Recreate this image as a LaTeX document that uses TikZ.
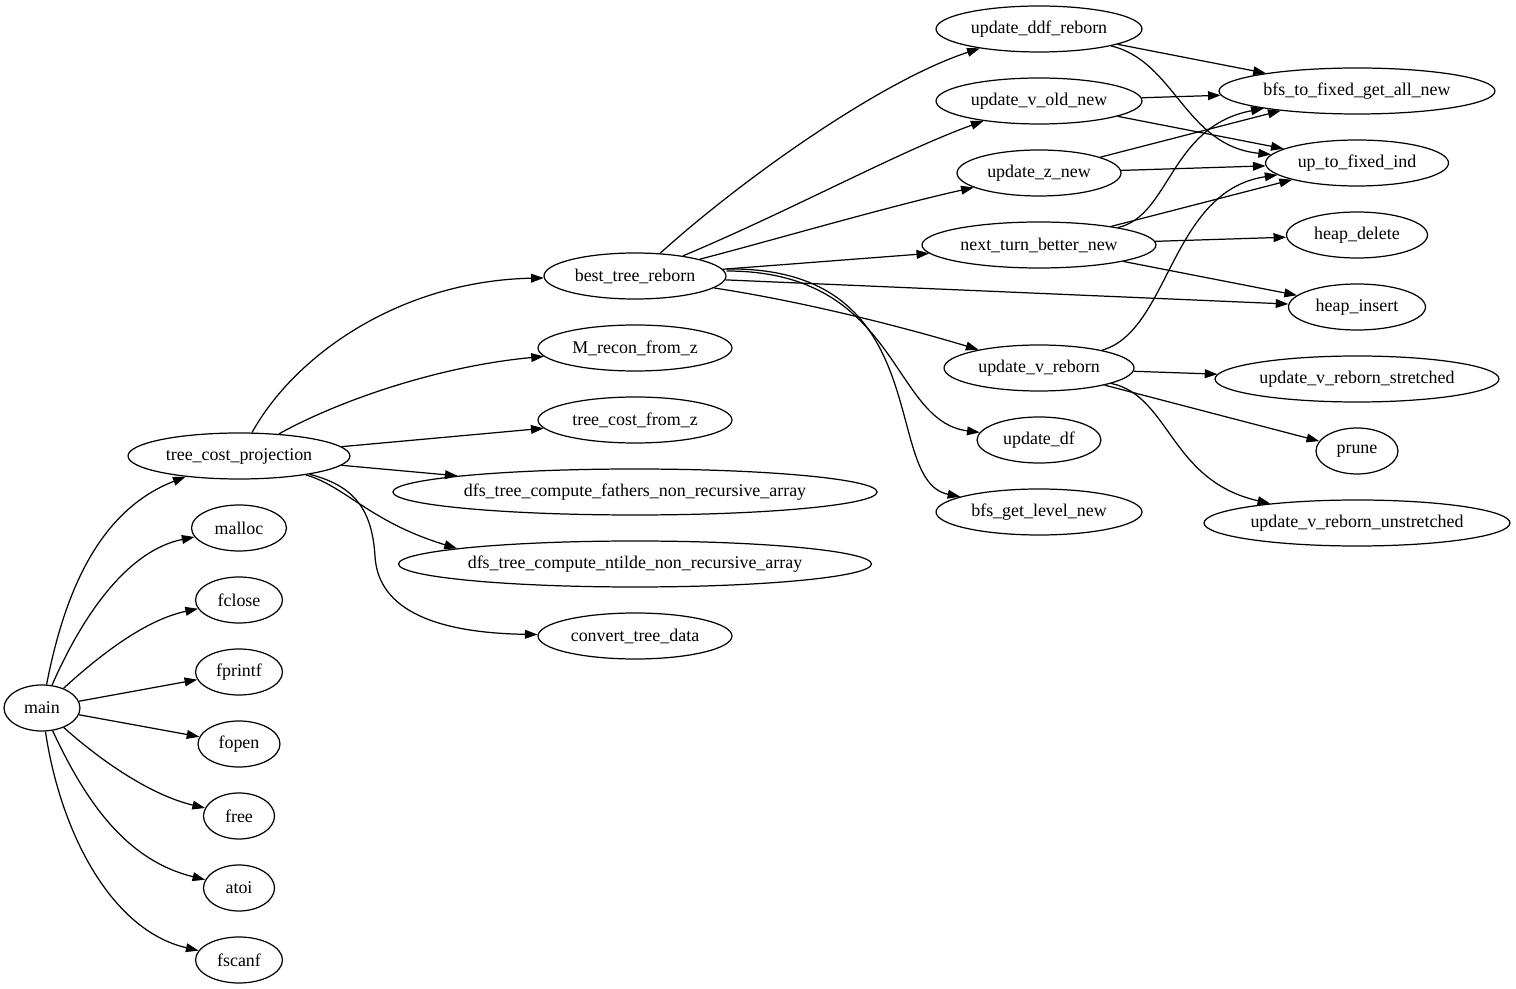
\documentclass[tikz,border=0pt]{standalone}
\usepackage{fontspec}
\setmainfont{Liberation Serif}
\usetikzlibrary{shapes.geometric,arrows.meta}
\tikzset{
  fn/.style={ellipse, draw, line width=0.7pt, inner sep=0pt, minimum height=0.92cm,
    font=\fontsize{10.2}{12}\selectfont},
  call/.style={line width=0.7pt, -{Triangle[length=7.2pt,width=5pt]}},
}
\begin{document}
\begin{tikzpicture}[x=0.02cm,y=-0.02cm]
\useasboundingbox (0,0) rectangle (1516,989);
% column 0
\node[fn, minimum width=1.52cm] (main) at (42,708) {main};
% column 1
\node[fn, minimum width=4.44cm] (tcp) at (239,456) {tree\_cost\_projection};
\node[fn, minimum width=1.9cm] (malloc) at (239,528) {malloc};
\node[fn, minimum width=1.74cm] (fclose) at (239,600) {fclose};
\node[fn, minimum width=1.74cm] (fprintf) at (239,672) {fprintf};
\node[fn, minimum width=1.64cm] (fopen) at (239,744) {fopen};
\node[fn, minimum width=1.42cm] (free) at (239,816) {free};
\node[fn, minimum width=1.42cm] (atoi) at (239,888) {atoi};
\node[fn, minimum width=1.74cm] (fscanf) at (239,960) {fscanf};
% column 2
\node[fn, minimum width=3.64cm] (btr) at (635,276) {best\_tree\_reborn};
\node[fn, minimum width=3.88cm] (mrec) at (635,348) {M\_recon\_from\_z};
\node[fn, minimum width=3.88cm] (tcfz) at (635,420) {tree\_cost\_from\_z};
\node[fn, minimum width=9.58cm] (dfsf) at (635,492) {dfs\_tree\_compute\_fathers\_non\_recursive\_array};
\node[fn, minimum width=9.32cm] (dfsn) at (635,564) {dfs\_tree\_compute\_ntilde\_non\_recursive\_array};
\node[fn, minimum width=3.88cm] (ctd) at (635,636) {convert\_tree\_data};
% column 3
\node[fn, minimum width=4.12cm] (uddf) at (1039,29) {update\_ddf\_reborn};
\node[fn, minimum width=4.12cm] (uvon) at (1039,101) {update\_v\_old\_new};
\node[fn, minimum width=3.28cm] (uzn) at (1039,173) {update\_z\_new};
\node[fn, minimum width=4.68cm] (ntbn) at (1039,245) {next\_turn\_better\_new};
\node[fn, minimum width=3.8cm] (uvr) at (1039,368) {update\_v\_reborn};
\node[fn, minimum width=2.48cm] (udf) at (1039,440) {update\_df};
\node[fn, minimum width=4.12cm] (bgl) at (1039,512) {bfs\_get\_level\_new};
% column 4
\node[fn, minimum width=5.52cm] (bfga) at (1357,91) {bfs\_to\_fixed\_get\_all\_new};
\node[fn, minimum width=3.66cm] (utfi) at (1357,163) {up\_to\_fixed\_ind};
\node[fn, minimum width=2.82cm] (hdel) at (1357,235) {heap\_delete};
\node[fn, minimum width=2.74cm] (hins) at (1357,307) {heap\_insert};
\node[fn, minimum width=5.68cm] (uvrs) at (1357,379) {update\_v\_reborn\_stretched};
\node[fn, minimum width=1.64cm] (prune) at (1357,451) {prune};
\node[fn, minimum width=6.12cm] (uvru) at (1357,523) {update\_v\_reborn\_unstretched};

% main edges
\draw[call] (main) .. controls (65,590) and (100,510) .. (tcp);
\draw[call] (main) .. controls (85,610) and (130,550) .. (malloc);
\draw[call] (main) .. controls (100,655) and (145,620) .. (fclose);
\draw[call] (main) -- (fprintf);
\draw[call] (main) -- (fopen);
\draw[call] (main) .. controls (100,760) and (150,795) .. (free);
\draw[call] (main) .. controls (85,800) and (125,860) .. (atoi);
\draw[call] (main) .. controls (60,830) and (110,930) .. (fscanf);

% tree_cost_projection edges
\draw[call] (tcp) .. controls (295,355) and (400,281) .. (btr);
\draw[call] (tcp) .. controls (340,400) and (440,366) .. (mrec);
\draw[call] (tcp) -- (tcfz);
\draw[call] (tcp) -- (dfsf);
\draw[call] (tcp) .. controls (345,486) and (370,522) .. (dfsn.175);
\coordinate (cbend) at (375,556);
\draw[call] (tcp) .. controls (355,486) and (372,510) .. (cbend)
                  .. controls (378,612) and (440,633) .. (ctd);

% best_tree_reborn edges
\draw[call] (btr) .. controls (740,181) and (880,81) .. (uddf);
\draw[call] (btr) .. controls (790,211) and (900,151) .. (uvon);
\draw[call] (btr) .. controls (770,241) and (890,206) .. (uzn);
\draw[call] (btr) -- (ntbn);
\draw[call] (btr) -- (hins);
\draw[call] (btr) .. controls (800,301) and (900,326) .. (uvr);
\draw[call] (btr.east) ++(0,-5) .. controls (900,271) and (890,421) .. (udf);
\draw[call] (btr.east) ++(0,-7) .. controls (940,266) and (880,481) .. (bgl);

% second level
\draw[call] (uddf) -- (bfga);
\draw[call] (uddf) .. controls (1175,61) and (1185,146) .. (utfi);
\draw[call] (uvon) -- (bfga);
\draw[call] (uvon) -- (utfi);
\draw[call] (uzn) -- (bfga);
\draw[call] (uzn) -- (utfi);
\draw[call] (ntbn) .. controls (1170,216) and (1170,126) .. (bfga);
\draw[call] (ntbn) -- (utfi);
\draw[call] (ntbn) -- (hdel);
\draw[call] (ntbn) -- (hins);
\draw[call] (uvr) .. controls (1170,331) and (1170,191) .. (utfi);
\draw[call] (uvr) -- (uvrs);
\draw[call] (uvr) -- (prune);
\draw[call] (uvr) .. controls (1170,396) and (1170,481) .. (uvru);
\end{tikzpicture}
\end{document}
